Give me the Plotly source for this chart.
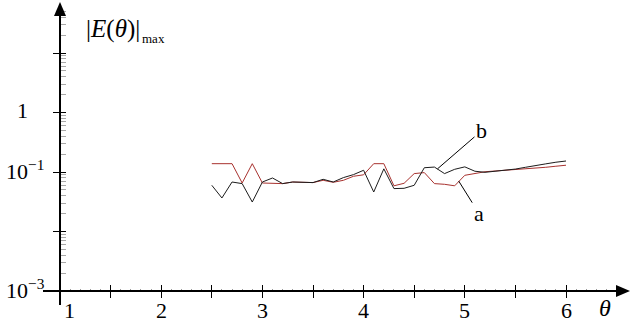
import numpy as np
import plotly.graph_objects as go

# theta samples and the maximum error of the two runs
theta = [2.5, 2.6, 2.7, 2.8, 2.9, 3.0, 3.1, 3.2, 3.3, 3.4, 3.5, 3.6,
         3.7, 3.8, 3.9, 4.0, 4.1, 4.2, 4.3, 4.4, 4.5, 4.6, 4.7, 4.8,
         4.9, 5.0, 5.1, 5.2, 5.3, 5.4, 5.5, 5.6, 5.7, 5.8, 5.9, 6.0]

err_a = [0.138, 0.138, 0.138, 0.0653, 0.138, 0.0653, 0.0646, 0.0638, 0.0679,
         0.0679, 0.0664, 0.0725, 0.0671, 0.0725, 0.0847, 0.0897, 0.138, 0.138,
         0.0586, 0.0646, 0.094, 0.0977, 0.0638, 0.0621, 0.0586, 0.088, 0.0933,
         0.101, 0.104, 0.107, 0.109, 0.111, 0.115, 0.120, 0.125, 0.130]

err_b = [0.0598, 0.0366, 0.0679, 0.0638, 0.0313, 0.0679, 0.0793, 0.0638, 0.0679,
         0.0679, 0.0664, 0.0754, 0.0679, 0.0805, 0.0904, 0.107, 0.0461, 0.113,
         0.0526, 0.0532, 0.0598, 0.118, 0.121, 0.094, 0.111, 0.122, 0.103,
         0.0988, 0.103, 0.107, 0.112, 0.120, 0.130, 0.137, 0.146, 0.153]

# axis ticks and labels
x_major = [1, 1.5, 2, 2.5, 3, 3.5, 4, 4.5, 5, 5.5, 6]
x_labels = [1, 2, 3, 4, 5, 6]
y_major = [1e-3, 1e-2, 1e-1, 1, 10]
y_labels = {1e-3: "10<sup>\u22123</sup>", 1e-1: "10<sup>\u22121</sup>", 1: "1"}

W, H = 630, 327
ML, MR, MT, MB = 60, 10, 10, 36
PW, PH = W - ML - MR, H - MT - MB
PX_PER_UNIT = 101.2
PX_PER_DECADE = 59.5

x_range = [1, 1 + PW / PX_PER_UNIT]
y_range = [-3, -3 + PH / PX_PER_DECADE]

FONT = "'Times New Roman', 'Liberation Serif', Times, serif"


def px(xp):
    return (xp - ML) / PW


def py(yp):
    return (H - MB - yp) / PH


y_minor = [m * 10.0 ** k for k in range(-3, 1 + 1) for m in range(2, 10)]

fig = go.Figure()
fig.add_trace(go.Scatter(x=theta, y=err_a, mode="lines",
                         line=dict(color="#A8322F", width=1), showlegend=False))
fig.add_trace(go.Scatter(x=theta, y=err_b, mode="lines",
                         line=dict(color="#1c1c1c", width=1), showlegend=False))
# empty trace carrying the overlay axes (inner half of the crossing ticks)
fig.add_trace(go.Scatter(x=[], y=[], xaxis="x2", yaxis="y2", showlegend=False))

common = dict(showgrid=False, zeroline=False, showline=False, showticklabels=False)
fig.update_layout(
    width=W, height=H,
    margin=dict(l=ML, r=MR, t=MT, b=MB),
    paper_bgcolor="white", plot_bgcolor="white",
    font=dict(family=FONT, color="black"),
    xaxis=dict(range=x_range, tickvals=x_major, ticks="outside", ticklen=6,
               tickwidth=1.3, tickcolor="black",
               minor=dict(tick0=1, dtick=0.1, ticks="inside", ticklen=2,
                          tickwidth=1, tickcolor="#9a9a9a"),
               **common),
    yaxis=dict(type="log", range=y_range, tickvals=y_major, ticks="outside",
               ticklen=6, tickwidth=1.3, tickcolor="black",
               minor=dict(tickvals=y_minor, ticks="inside", ticklen=6,
                          tickwidth=1, tickcolor="#a8a8a8"),
               **common),
    xaxis2=dict(range=x_range, overlaying="x", anchor="y2", side="bottom",
                tickvals=x_major, ticks="inside", ticklen=6, tickwidth=1.3,
                tickcolor="black", **common),
    yaxis2=dict(type="log", range=y_range, overlaying="y", anchor="x2", side="left",
                tickvals=y_major, ticks="inside", ticklen=6, tickwidth=1.3,
                tickcolor="black", **common),
)

# axis lines with arrowheads
shapes = [
    dict(type="line", xref="paper", yref="paper", x0=px(43), x1=px(618),
         y0=py(291), y1=py(291), line=dict(color="black", width=2)),
    dict(type="line", xref="paper", yref="paper", x0=px(60), x1=px(60),
         y0=py(305), y1=py(14), line=dict(color="black", width=2)),
    dict(type="path", xref="paper", yref="paper",
         path=f"M {px(630)} {py(291)} L {px(616)} {py(285)} L {px(616)} {py(297)} Z",
         fillcolor="black", line=dict(width=0)),
    dict(type="path", xref="paper", yref="paper",
         path=f"M {px(60)} {py(2)} L {px(54)} {py(16)} L {px(66)} {py(16)} Z",
         fillcolor="black", line=dict(width=0)),
]
fig.update_layout(shapes=shapes)

ann = []
# x tick labels
for v in x_labels:
    ann.append(dict(x=v, y=py(310), xref="x", yref="paper", text=str(v),
                    showarrow=False, xanchor="center", yanchor="middle",
                    xshift=9 if v == 1 else 0,
                    font=dict(family=FONT, size=22, color="black")))
# y tick labels
for v, t in y_labels.items():
    ann.append(dict(x=px(4 if v != 1 else 15), y=np.log10(v), xref="paper", yref="y",
                    text=t, showarrow=False, xanchor="left", yanchor="middle",
                    yshift=2, font=dict(family=FONT, size=22, color="black")))
# axis titles
ann.append(dict(x=px(605), y=py(308), xref="paper", yref="paper",
                text="<i>\u03b8</i>", showarrow=False,
                xanchor="center", yanchor="middle",
                font=dict(family=FONT, size=24, color="black")))
ann.append(dict(x=px(113), y=py(29), xref="paper", yref="paper",
                text="|<i>E</i>(<i>\u03b8</i>)|", showarrow=False,
                xanchor="center", yanchor="middle",
                font=dict(family=FONT, size=25, color="black")))
ann.append(dict(x=px(140), y=py(38), xref="paper", yref="paper",
                text="max", showarrow=False, xanchor="left", yanchor="middle",
                font=dict(family=FONT, size=13, color="black")))
# curve labels
xb, xa = 4.73, 4.94
ann.append(dict(x=xb, y=np.log10(np.interp(xb, theta, err_b)), xref="x", yref="y",
                text="b", showarrow=True, arrowhead=0, arrowwidth=1,
                arrowcolor="black", ax=44, ay=-38,
                font=dict(family=FONT, size=22, color="black")))
ann.append(dict(x=xa, y=np.log10(np.interp(xa, theta, err_a)), xref="x", yref="y",
                text="a", showarrow=True, arrowhead=0, arrowwidth=1,
                arrowcolor="black", ax=20, ay=32,
                font=dict(family=FONT, size=22, color="black")))
fig.update_layout(annotations=ann)

fig.write_html("out.html")
